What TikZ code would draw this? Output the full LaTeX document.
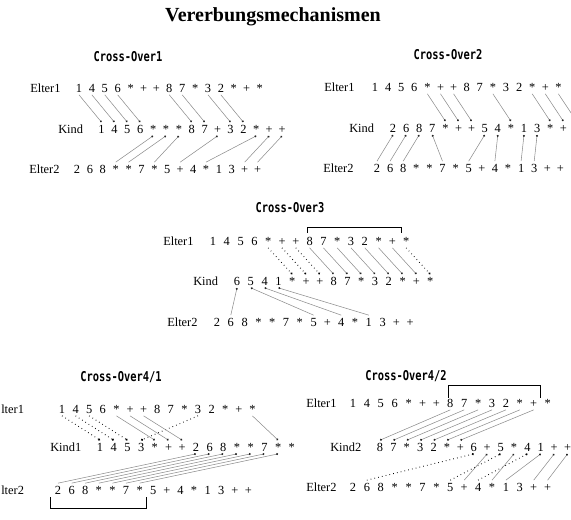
\documentclass[tikz,border=0pt]{standalone}
\usepackage{fontspec}
\usepackage{graphicx}
\usetikzlibrary{arrows.meta}
\setmainfont{Liberation Serif}
\newfontfamily\crossfont{DejaVu Sans Mono}
\newcommand{\rowfont}{\fontsize{9.3}{11}\selectfont}
% the two parents and the children, one entry per gene
\newcommand{\elterA}{1,4,5,6,*,+,+,8,7,*,3,2,*,+,*}
\newcommand{\elterB}{2,6,8,*,*,7,*,5,+,4,*,1,3,+,+}
\newcommand{\kindA}{1,4,5,6,*,*,*,8,7,+,3,2,*,+,+}
\newcommand{\kindB}{2,6,8,7,*,+,+,5,4,*,1,3,*,+}
\newcommand{\kindC}{6,5,4,1,*,+,+,8,7,*,3,2,*,+,*}
\newcommand{\kindD}{1,4,5,3,*,+,+,2,6,8,*,*,7,*,*}
\newcommand{\kindE}{8,7,*,3,2,*,+,6,+,5,*,4,1,+,+}
% name, x of first gene, y, spacing, list
\newcommand{\generow}[5]{%
  \foreach \c [count=\i] in #5 {
    \node[gene] (#1-\i) at ({#2+(\i-1)*#4},#3) {\c};
  }}

\begin{document}
\begin{tikzpicture}[x=0.75pt, y=-0.75pt,
    gene/.style={inner sep=1.5pt, text height=1.5ex, text depth=0pt, font=\rowfont},
    lab/.style={gene, anchor=west, inner sep=0pt},
    ctitle/.style={font=\crossfont\bfseries\fontsize{7.8}{9}\selectfont, inner sep=0pt},
    lnk/.style={draw=black!45, line width=0.4pt, -{Circle[length=1.5pt, color=black!85]}},
    dlnk/.style={draw=black, line width=0.7pt, dash pattern=on 0.5pt off 2.4pt,
                 -{Circle[length=1.5pt]}},
    brk/.style={line width=0.7pt}
  ]
  \useasboundingbox (0,0) rectangle (571,519);
  \clip (0,0) rectangle (571,519);

  \node[font=\fontsize{15}{18}\selectfont\bfseries] (title) at (273,17) {Vererbungsmechanismen};

  % Cross-Over1
  \node[ctitle] (t1) at (128,57) {\scalebox{1}[1.3]{Cross-Over1}};
  \node[lab] (l1a) at (30,88) {Elter1};
  \node[lab] (l1k) at (58,129) {Kind};
  \node[lab] (l1b) at (29,169) {Elter2};
  \generow{c1a}{79}{88}{12.9}{\elterA}
  \generow{c1k}{101.5}{129}{12.9}{\kindA}
  \generow{c1b}{77}{169}{12.9}{\elterB}
  \foreach \a in {1,2,3,4,8,9,11,12}
    \draw[lnk] (c1a-\a.south) -- (c1k-\a.north);
  \foreach \a/\b in {4/5,5/6,7/7,9/10,11/13,14/14,15/15}
    \draw[lnk] (c1b-\a.north) -- (c1k-\b.south);

  % Cross-Over2 (the child runs on past the right edge)
  \node[ctitle] (t2) at (448,55) {\scalebox{1}[1.3]{Cross-Over2}};
  \node[lab] (l2a) at (324,87) {Elter1};
  \node[lab] (l2k) at (349,128) {Kind};
  \node[lab] (l2b) at (323,168) {Elter2};
  \generow{c2a}{375}{87}{13.1}{\elterA}
  \generow{c2k}{393}{128}{13.1}{\kindB}
  \generow{c2b}{377}{168}{13.1}{\elterB}
  \coordinate (c2k-15) at (576.4,121);
  \foreach \a in {5,6,7,10,13,14}
    \draw[lnk] (c2a-\a.south) -- (c2k-\a.north);
  \draw[lnk] (c2a-15.south) -- (c2k-15);
  \foreach \a/\b in {1/1,2/2,3/3,6/4,8/8,10/9,12/11,13/12}
    \draw[lnk] (c2b-\a.north) -- (c2k-\b.south);

  % Cross-Over3
  \node[ctitle] (t3) at (290,208) {\scalebox{1}[1.3]{Cross-Over3}};
  \node[lab] (l3a) at (163,241) {Elter1};
  \node[lab] (l3k) at (193,281) {Kind};
  \node[lab] (l3b) at (167,322) {Elter2};
  \generow{c3a}{213}{241}{13.8}{\elterA}
  \generow{c3k}{237}{281}{13.8}{\kindC}
  \generow{c3b}{217}{322}{13.8}{\elterB}
  \draw[brk] (307,233) -- (307,227) -- (401,227) -- (401,233);
  \foreach \a in {5,6,7,15}
    \draw[dlnk] (c3a-\a.south) -- (c3k-\a.north);
  \foreach \a in {8,...,14}
    \draw[lnk] (c3a-\a.south) -- (c3k-\a.north);
  \foreach \a/\b in {2/1,8/2,10/3,12/4}
    \draw[lnk] (c3b-\a.north) -- (c3k-\b.south);

  % Cross-Over4/1 (labels run off the left edge)
  \node[ctitle] (t4) at (121,377) {\scalebox{1}[1.3]{Cross-Over4/1}};
  \node[lab] (l4a) at (1,409) {lter1};
  \node[lab] (l4k) at (50,447) {Kind1};
  \node[lab] (l4b) at (1,490) {lter2};
  \generow{c4a}{62}{409}{13.6}{\elterA}
  \generow{c4k}{100}{447}{13.7}{\kindD}
  \generow{c4b}{58}{490}{13.6}{\elterB}
  \draw[brk] (50,497) -- (50,508) -- (146,508) -- (146,497);
  \foreach \a/\b in {1/1,2/2,3/3,11/4}
    \draw[dlnk] (c4a-\a.south) -- (c4k-\b.north);
  \foreach \a/\b in {5/5,6/6,7/7,15/14}
    \draw[lnk] (c4a-\a.south) -- (c4k-\b.north);
  \foreach \a [evaluate=\a as \b using int(\a+7)] in {1,...,7}
    \draw[lnk] (c4b-\a.north) -- (c4k-\b.south);

  % Cross-Over4/2
  \node[ctitle] (t5) at (406,376) {\scalebox{1}[1.3]{Cross-Over4/2}};
  \node[lab] (l5a) at (306,403) {Elter1};
  \node[lab] (l5k) at (330,447) {Kind2};
  \node[lab] (l5b) at (306,487) {Elter2};
  \generow{c5a}{353}{403}{13.9}{\elterA}
  \generow{c5k}{380}{447}{13.4}{\kindE}
  \generow{c5b}{353}{487}{13.9}{\elterB}
  \draw[brk] (448,398) -- (448,385) -- (540,385) -- (540,398);
  \foreach \a [evaluate=\a as \b using int(\a-7)] in {8,...,14}
    \draw[lnk] (c5a-\a.south) -- (c5k-\b.north);
  \foreach \a/\b in {2/8,8/10,10/12}
    \draw[dlnk] (c5b-\a.north) -- (c5k-\b.south);
  \foreach \a/\b in {9/9,11/11,12/13,14/14,15/15}
    \draw[lnk] (c5b-\a.north) -- (c5k-\b.south);
\end{tikzpicture}
\end{document}
